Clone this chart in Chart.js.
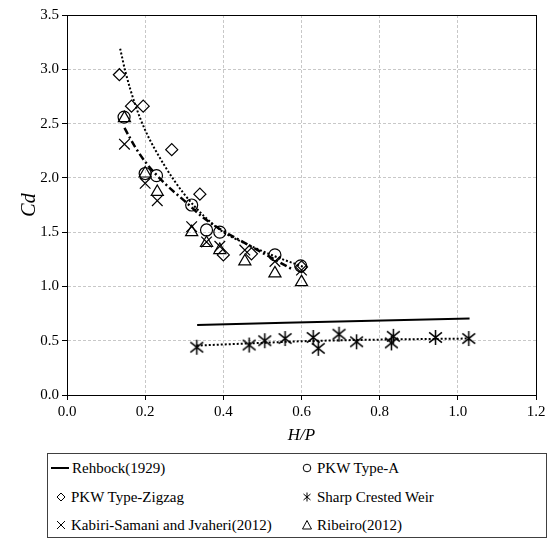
<!DOCTYPE html>
<html><head><meta charset="utf-8">
<script src="https://cdn.jsdelivr.net/npm/chart.js@4"></script>
<style>
html,body{margin:0;padding:0;background:#fff;}
#wrap{position:relative;width:549px;height:540px;overflow:hidden;}
#c{position:absolute;left:0;top:0;}
#legend{position:absolute;left:47px;top:453px;width:500px;height:85px;border:1px solid #404040;box-sizing:border-box;font-family:"Liberation Serif","Times New Roman",serif;font-size:15px;color:#000;}
.item{position:absolute;display:flex;align-items:center;height:20px;white-space:nowrap;}
.item canvas{margin-right:3px;}
</style></head>
<body><div id="wrap"><canvas id="c" width="549" height="446"></canvas><div id="legend"></div></div>
<script>
// ---- data ----
const rehbockX = [0.333, 1.030];
const rehbockY = [0.645, 0.705];

const typeAX = [0.146, 0.200, 0.229, 0.319, 0.357, 0.391, 0.532, 0.598];
const typeAY = [2.56, 2.04, 2.02, 1.75, 1.52, 1.50, 1.29, 1.19];

const zigzagX = [0.134, 0.165, 0.195, 0.268, 0.340, 0.400, 0.472, 0.600];
const zigzagY = [2.95, 2.66, 2.66, 2.26, 1.85, 1.29, 1.30, 1.18];

const kabiriX = [0.147, 0.200, 0.231, 0.319, 0.357, 0.391, 0.455, 0.532, 0.600];
const kabiriY = [2.31, 1.95, 1.79, 1.55, 1.41, 1.37, 1.335, 1.23, 1.15];

const ribeiroX = [0.147, 0.200, 0.231, 0.319, 0.357, 0.391, 0.455, 0.532, 0.600];
const ribeiroY = [2.55, 2.04, 1.87, 1.50, 1.40, 1.335, 1.23, 1.12, 1.04];

const sharpX = [0.332, 0.466, 0.506, 0.558, 0.630, 0.643, 0.696, 0.741, 0.830, 0.835, 0.943, 1.028];
const sharpY = [0.44, 0.46, 0.50, 0.52, 0.53, 0.43, 0.56, 0.49, 0.48, 0.54, 0.53, 0.52];

// trend curves
const zigTrendX = [0.136, 0.150, 0.174, 0.200, 0.250, 0.300, 0.350, 0.400, 0.460, 0.530, 0.605];
const zigTrendY = [3.19, 2.97, 2.68, 2.44, 2.11, 1.85, 1.65, 1.50, 1.39, 1.28, 1.18];

const dashTrendX = [0.147, 0.175, 0.204, 0.250, 0.300, 0.350, 0.400, 0.450, 0.500, 0.580];
const dashTrendY = [2.46, 2.28, 2.13, 1.95, 1.79, 1.63, 1.51, 1.41, 1.31, 1.15];

const sharpTrendX = [0.332, 0.466, 0.600, 0.800, 1.030];
const sharpTrendY = [0.455, 0.475, 0.495, 0.510, 0.520];

const xTicks = [0.0, 0.2, 0.4, 0.6, 0.8, 1.0, 1.2];
const yTicks = [0.0, 0.5, 1.0, 1.5, 2.0, 2.5, 3.0, 3.5];

const legendLabels = ["Rehbock(1929)", "PKW Type-A", "PKW Type-Zigzag", "Sharp Crested Weir", "Kabiri-Samani and Jvaheri(2012)", "Ribeiro(2012)"];

// ---- helpers ----
function pts(xs, ys){ return xs.map((x,i)=>({x:x, y:ys[i]})); }

function asterMarker(s, lw){
  const n = Math.ceil(2*s+4), c = document.createElement('canvas');
  c.width = n; c.height = n;
  const g = c.getContext('2d');
  const m = n/2, d = s*0.85;
  g.strokeStyle = '#000'; g.lineWidth = lw;
  g.beginPath();
  g.moveTo(m,m-s); g.lineTo(m,m+s);
  g.moveTo(m-d,m-d*0.8); g.lineTo(m+d,m+d*0.8);
  g.moveTo(m+d,m-d*0.8); g.lineTo(m-d,m+d*0.8);
  g.stroke();
  return c;
}

function smallMarker(type){
  const c = document.createElement('canvas');
  c.width = type==='line' ? 18 : 14; c.height = 14;
  const g = c.getContext('2d');
  if(type==='line'){ g.fillStyle='#000'; g.fillRect(0,6,18,2); return c; }
  g.strokeStyle='#000'; g.lineWidth=1; g.beginPath();
  const m=7;
  if(type==='circle') g.arc(m,m,3.8,0,Math.PI*2);
  if(type==='diamond'){ g.moveTo(m,m-4); g.lineTo(m+4,m); g.lineTo(m,m+4); g.lineTo(m-4,m); g.closePath(); }
  if(type==='aster'){ g.moveTo(m,m-4.5); g.lineTo(m,m+4.5); g.moveTo(m-3.5,m-3); g.lineTo(m+3.5,m+3); g.moveTo(m+3.5,m-3); g.lineTo(m-3.5,m+3); }
  if(type==='cross'){ g.moveTo(m-4,m-4); g.lineTo(m+4,m+4); g.moveTo(m+4,m-4); g.lineTo(m-4,m+4); }
  if(type==='triangle'){ g.moveTo(m,m-4.5); g.lineTo(m+4.5,m+4); g.lineTo(m-4.5,m+4); g.closePath(); }
  g.stroke();
  return c;
}

function scatterDS(label, xs, ys, style, r){
  return {label, data: pts(xs, ys), pointStyle: style, pointRadius: r, pointBorderWidth: 1.2,
          showLine: false, borderColor:'#000', backgroundColor:'transparent'};
}
function lineDS(label, xs, ys, dash, w){
  return {label, data: pts(xs, ys), showLine: true, pointRadius: 0, borderColor:'#000',
          borderWidth: w, borderDash: dash, cubicInterpolationMode:'monotone', fill:false};
}

const frame = {
  id:'frame',
  beforeDatasetsDraw(chart){
    const {ctx, chartArea:a} = chart;
    ctx.save(); ctx.strokeStyle='#000'; ctx.lineWidth=1;
    ctx.strokeRect(Math.round(a.left)+0.5, Math.round(a.top)+0.5, Math.round(a.right-a.left), Math.round(a.bottom-a.top));
    ctx.restore();
  }
};

const serif = '"Liberation Serif"';

function draw(){
  Chart.defaults.font.family = serif;
  const aster = asterMarker(7.5, 1.5);
  new Chart(document.getElementById('c'), {
    type: 'scatter',
    data: { datasets: [
      scatterDS('PKW Type-A', typeAX, typeAY, 'circle', 6),
      scatterDS('PKW Type-Zigzag', zigzagX, zigzagY, 'rectRot', 6),
      scatterDS('Kabiri-Samani and Jvaheri(2012)', kabiriX, kabiriY, 'crossRot', 7.5),
      scatterDS('Ribeiro(2012)', ribeiroX, ribeiroY, 'triangle', 7),
      scatterDS('Sharp Crested Weir', sharpX, sharpY, aster, 7),
      lineDS('Rehbock(1929)', rehbockX, rehbockY, [], 2),
      lineDS('zigzag trend', zigTrendX, zigTrendY, [2,2], 2),
      lineDS('type-A trend', dashTrendX, dashTrendY, [7,3,2,3], 2.5),
      lineDS('sharp trend', sharpTrendX, sharpTrendY, [2,2], 2)
    ]},
    options: {
      responsive:false, animation:false, devicePixelRatio:1,
      layout:{ padding:{ left:0, top:15, right:13, bottom:0 } },
      plugins:{ legend:{display:false}, tooltip:{enabled:false} },
      scales:{
        x:{ type:'linear', min:0, max:1.2,
          afterBuildTicks(s){ s.ticks = xTicks.map(v=>({value:v})); },
          afterFit(s){ s.height = 51; },
          ticks:{ color:'#000', padding:3, font:{family:serif, size:15}, callback:v=>v.toFixed(1), maxRotation:0 },
          grid:{ color:'#c8c8c8', lineWidth:1, tickColor:'#000', tickLength:5, drawTicks:true },
          border:{ display:true, color:'#000', width:1, dash:[3,2] },
          title:{ display:true, text:'H/P', color:'#000', font:{family:serif, size:17, style:'italic'}, padding:{top:0,bottom:0} }
        },
        y:{ type:'linear', min:0, max:3.5,
          afterBuildTicks(s){ s.ticks = yTicks.map(v=>({value:v})); },
          afterFit(s){ s.width = 67; },
          ticks:{ color:'#000', padding:3, font:{family:serif, size:15}, callback:v=>v.toFixed(1) },
          grid:{ color:'#c8c8c8', lineWidth:1, tickColor:'#000', tickLength:5, drawTicks:true },
          border:{ display:true, color:'#000', width:1, dash:[3,2] },
          title:{ display:true, text:'Cd', color:'#000', font:{family:serif, size:20, style:'italic'}, padding:{top:18,bottom:0} }
        }
      }
    },
    plugins:[frame]
  });

  const lg = document.getElementById('legend');
  const legendItems = [
    {t:legendLabels[0], m:'line', x:3, y:4},
    {t:legendLabels[1], m:'circle', x:252, y:4},
    {t:legendLabels[2], m:'diamond', x:6, y:33},
    {t:legendLabels[3], m:'aster', x:252, y:33},
    {t:legendLabels[4], m:'cross', x:6, y:61},
    {t:legendLabels[5], m:'triangle', x:252, y:61}
  ];
  legendItems.forEach(it=>{
    const d = document.createElement('div');
    d.className='item'; d.style.left=it.x+'px'; d.style.top=it.y+'px';
    d.appendChild(smallMarker(it.m));
    const s = document.createElement('span'); s.textContent = it.t;
    d.appendChild(s);
    lg.appendChild(d);
  });
}

let done = false;
function go(){ if(!done){ done = true; draw(); } }
if (document.fonts && document.fonts.load) {
  Promise.all([
    document.fonts.load('15px "Liberation Serif"'),
    document.fonts.load('italic 17px "Liberation Serif"')
  ]).then(go, go);
  setTimeout(go, 1500);
} else { go(); }
</script>
</body></html>
